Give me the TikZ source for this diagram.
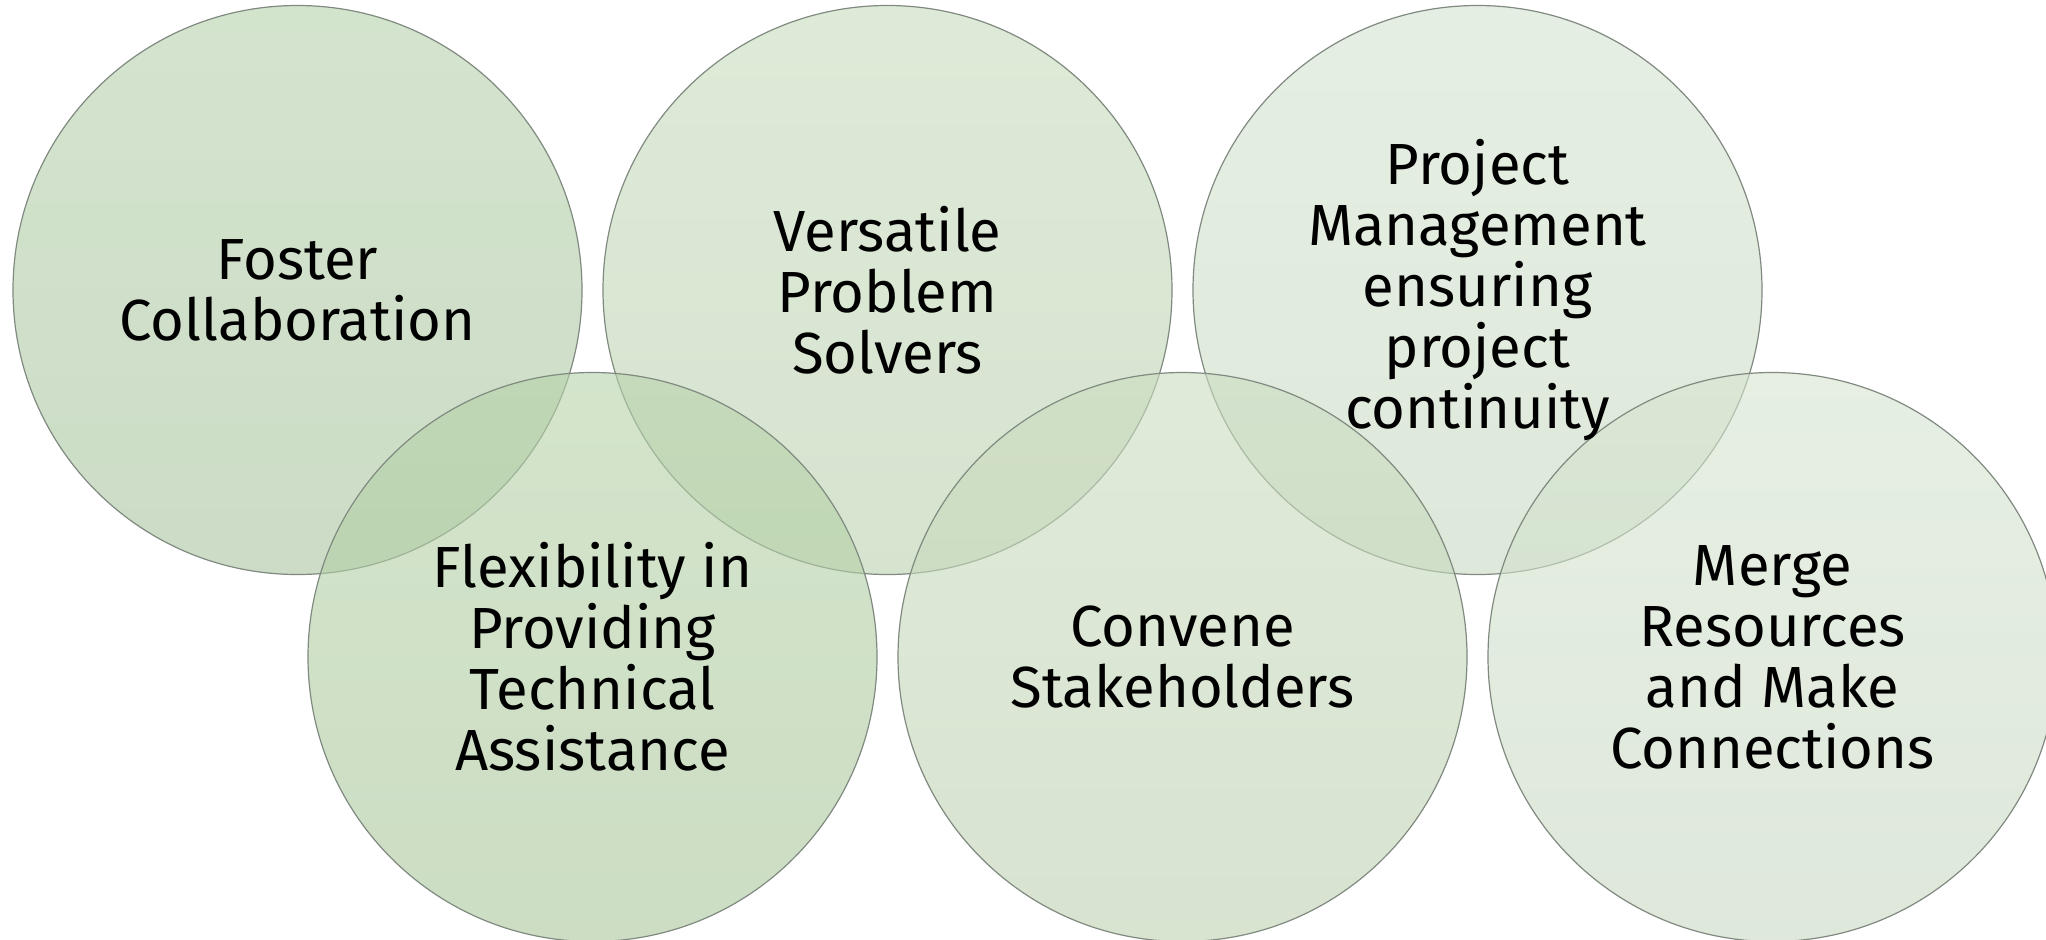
\documentclass[tikz,border=0pt]{standalone}
\usepackage{fontspec}
\setmainfont{Fira Sans}
\definecolor{ringline}{RGB}{128,138,128}
\definecolor{aT}{RGB}{183,210,173}\definecolor{aB}{RGB}{170,197,160}
\definecolor{bT}{RGB}{200,221,190}\definecolor{bB}{RGB}{187,209,176}
\definecolor{cT}{RGB}{213,228,208}\definecolor{cB}{RGB}{200,218,195}
\definecolor{dT}{RGB}{183,211,170}\definecolor{dB}{RGB}{170,199,156}
\definecolor{eT}{RGB}{203,221,192}\definecolor{eB}{RGB}{190,209,178}
\definecolor{fT}{RGB}{214,229,208}\definecolor{fB}{RGB}{201,217,195}
\tikzset{
  ring/.style={circle, minimum size=284.5pt, inner sep=0pt, draw=ringline, line width=0.6pt, fill opacity=0.6},
  ringtext/.style={align=center, text=black, font=\fontsize{29}{30.5}\selectfont, inner sep=0pt}
}
\begin{document}
\begin{tikzpicture}[x=0.5pt,y=-0.5pt]
\useasboundingbox (0,0) rectangle (2046,939);
\fill[white] (0,0) rectangle (2046,939);
\begin{scope}
\clip (0,0) rectangle (2046,939);
\node[ring, top color=aT, bottom color=aB] (c1) at (297.5,290) {};
\node[ring, top color=bT, bottom color=bB] (c2) at (887.5,290) {};
\node[ring, top color=cT, bottom color=cB] (c3) at (1477.5,290) {};
\node[ring, top color=dT, bottom color=dB] (c4) at (592.5,657) {};
\node[ring, top color=eT, bottom color=eB] (c5) at (1182.5,657) {};
\node[ring, top color=fT, bottom color=fB] (c6) at (1772.5,657) {};
\end{scope}
\node[ringtext] (t1) at (c1.center) {Foster\\Collaboration};
\node[ringtext] (t2) at (c2.center) {Versatile\\Problem\\Solvers};
\node[ringtext] (t3) at (c3.center) {Project\\Management\\ensuring\\project\\continuity};
\node[ringtext] (t4) at (c4.center) {Flexibility in\\Providing\\Technical\\Assistance};
\node[ringtext] (t5) at (c5.center) {Convene\\Stakeholders};
\node[ringtext] (t6) at (c6.center) {Merge\\Resources\\and Make\\Connections};
\end{tikzpicture}
\end{document}
